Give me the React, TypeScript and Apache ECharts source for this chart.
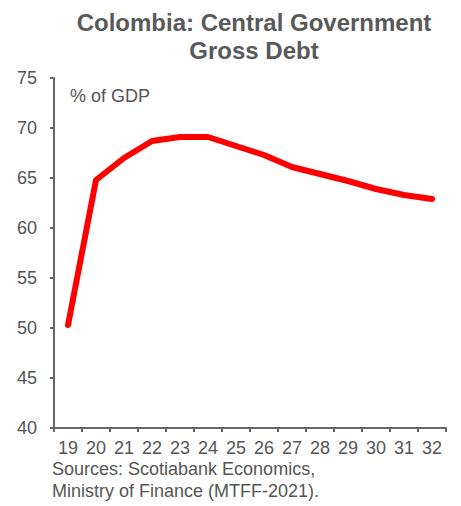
import React, { useEffect, useRef } from "react";
import * as echarts from "echarts";

const categories = ["19", "20", "21", "22", "23", "24", "25", "26", "27", "28", "29", "30", "31", "32"];
const debtValues = [50.3, 64.8, 67.0, 68.7, 69.1, 69.1, 68.2, 67.3, 66.1, 65.4, 64.7, 63.9, 63.3, 62.9];
const titleText = "Colombia: Central Government\nGross Debt";
const unitText = "% of GDP";
const sourceLines = ["Sources: Scotiabank Economics,", "Ministry of Finance (MTFF-2021)."];

const FONT = "Liberation Sans, Arial, sans-serif";

export default function App() {
  const ref = useRef<HTMLDivElement>(null);
  useEffect(() => {
    if (!ref.current) return;
    const chart = echarts.init(ref.current, null, { renderer: "svg" });
    chart.setOption({
      animation: false,
      backgroundColor: "#ffffff",
      title: {
        text: titleText,
        left: 249,
        textAlign: "center",
        top: 3,
        textStyle: { fontFamily: FONT, fontSize: 24, fontWeight: "bold", color: "#595959", lineHeight: 28 },
      },
      grid: { left: 54, right: 15, top: 78, bottom: 78, containLabel: false },
      xAxis: {
        type: "category",
        data: categories,
        boundaryGap: true,
        axisLine: { lineStyle: { color: "#666666", width: 2 } },
        axisTick: { show: true, alignWithLabel: false, length: 4, lineStyle: { color: "#666666", width: 2 } },
        axisLabel: { fontFamily: FONT, fontSize: 18, color: "#555555", margin: 11, lineHeight: 18 },
        splitLine: { show: false },
      },
      yAxis: {
        type: "value",
        min: 40,
        max: 75,
        interval: 5,
        axisLine: { show: true, lineStyle: { color: "#666666", width: 2 } },
        axisTick: { show: true, length: 4, lineStyle: { color: "#666666", width: 2 } },
        axisLabel: { fontFamily: FONT, fontSize: 18, color: "#555555", margin: 17 },
        splitLine: { show: false },
      },
      graphic: [
        {
          type: "text",
          left: 70,
          top: 87,
          style: { text: unitText, fontFamily: FONT, fontSize: 18, fill: "#555555" },
        },
        {
          type: "text",
          left: 52,
          top: 458,
          style: { text: sourceLines.join("\n"), fontFamily: FONT, fontSize: 18, lineHeight: 22, fill: "#555555" },
        },
      ],
      series: [
        {
          type: "line",
          data: debtValues,
          symbol: "none",
          lineStyle: { color: "#ff0000", width: 6, cap: "round", join: "round" },
        },
      ],
    });
    return () => chart.dispose();
  }, []);
  return <div ref={ref} style={{ width: 461, height: 506, position: "absolute", left: 0, top: 0 }} />;
}
